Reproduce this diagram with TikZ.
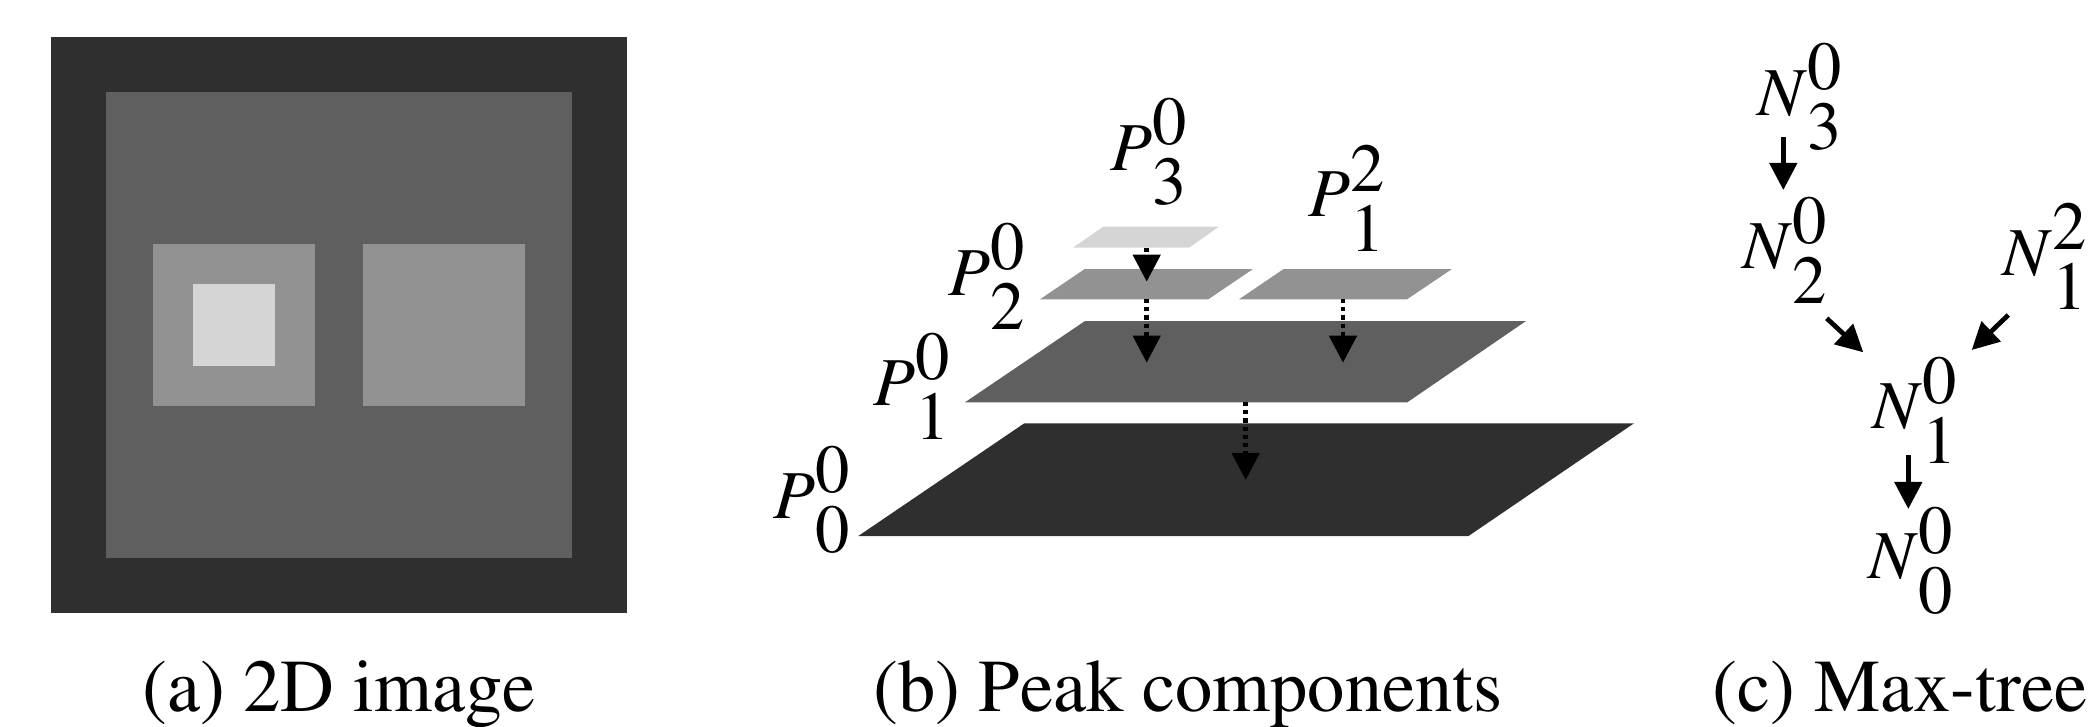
\documentclass[tikz,border=0pt]{standalone}
\usepackage[T1]{fontenc}
\usepackage{mathptmx}
\usetikzlibrary{arrows.meta}
\definecolor{gA}{HTML}{2F2F2F}
\definecolor{gB}{HTML}{5F5F5F}
\definecolor{gC}{HTML}{929292}
\definecolor{gD}{HTML}{D5D5D5}
\newcommand{\lbl}[3]{\textit{#1}\rlap{\raisebox{0.365em}{#2}}\raisebox{-0.51em}{#3}}
\begin{document}
\begin{tikzpicture}[x=0.01cm,y=-0.01cm,
  lab/.style={inner sep=0pt, anchor=base west, font=\fontsize{19.5pt}{23pt}\selectfont},
  captxt/.style={inner sep=0pt, anchor=base, font=\fontsize{21.2pt}{25pt}\selectfont},
  tarrow/.style={line width=1.35pt, -{Triangle[width=0.27cm,length=0.27cm]}},
  darrow/.style={tarrow, dash pattern=on 1.15pt off 1.15pt}]
\useasboundingbox (0,0) rectangle (2099,727);
% (a) 2D image
\fill[gA] (51,36.7) rectangle (627,612.7);
\fill[gB] (106,91.7) rectangle (572,557.7);
\fill[gC] (153,244) rectangle (315,406);
\fill[gD] (193,284) rectangle (275,366);
\fill[gC] (363,244) rectangle (525,406);
% (b) peak components
\fill[gA] (858.3,536) -- (1024.3,423.3) -- (1634,423.3) -- (1468.5,536) -- cycle;
\fill[gB] (965,402.3) -- (1085,321) -- (1526,321) -- (1407.3,402.3) -- cycle;
\fill[gC] (1040,299.3) -- (1084.7,269) -- (1253,269) -- (1208.3,299.3) -- cycle;
\fill[gC] (1239,299.3) -- (1283.6,269) -- (1452,269) -- (1407,299.3) -- cycle;
\fill[gD] (1073,247.7) -- (1103,226.7) -- (1219,226.7) -- (1189,247.7) -- cycle;
\coordinate (p3b) at (1146.7,247.7);
\coordinate (p2t) at (1146.7,281.7);
\coordinate (p2b) at (1146.7,299.3);
\coordinate (p1ta) at (1146.7,362.7);
\coordinate (q2b) at (1343,299.3);
\coordinate (p1tb) at (1343,362.7);
\coordinate (p1b) at (1245.7,402.3);
\coordinate (p0t) at (1245.7,480);
\draw[darrow] (p3b) -- (p2t);
\draw[darrow] (p2b) -- (p1ta);
\draw[darrow] (q2b) -- (p1tb);
\draw[darrow] (p1b) -- (p0t);
\node[lab] (P30) at (1110,170) {\lbl{P}{0}{3}};
\node[lab] (P12) at (1308,216.7) {\lbl{P}{2}{1}};
\node[lab] (P20) at (948,295) {\lbl{P}{0}{2}};
\node[lab] (P10) at (873,405) {\lbl{P}{0}{1}};
\node[lab] (P00) at (773,518) {\lbl{P}{0}{0}};
% (c) max-tree
\node[lab] (N30) at (1756.7,115) {\lbl{N}{0}{3}};
\node[lab] (N20) at (1741.7,268.3) {\lbl{N}{0}{2}};
\node[lab] (N12) at (2001.7,275) {\lbl{N}{2}{1}};
\node[lab] (N10) at (1871.7,428.3) {\lbl{N}{0}{1}};
\node[lab] (N00) at (1868,578.3) {\lbl{N}{0}{0}};
\coordinate (n3s) at (1783.3,136.7);
\coordinate (n2n) at (1783.3,190);
\coordinate (n2s) at (1826.7,318.3);
\coordinate (n1a) at (1863.3,352.3);
\coordinate (n12s) at (2008.3,315);
\coordinate (n1b) at (1971.7,350);
\coordinate (n1s) at (1908.3,455);
\coordinate (n0n) at (1908.3,509);
\draw[tarrow] (n3s) -- (n2n);
\draw[tarrow] (n2s) -- (n1a);
\draw[tarrow] (n12s) -- (n1b);
\draw[tarrow] (n1s) -- (n0n);
% captions
\node[captxt] (ca) at (339,711.7) {(a) 2D image};
\node[captxt] (cb) at (1188,711.7) {(b) Peak components};
\node[captxt] (cc) at (1900,711.7) {(c) Max-tree};
\end{tikzpicture}
\end{document}
